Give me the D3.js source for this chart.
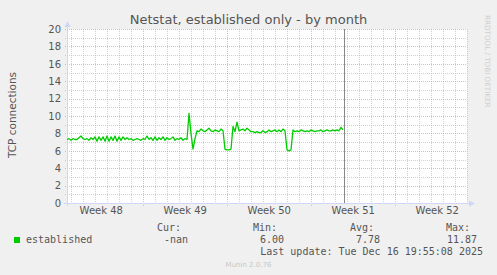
<!DOCTYPE html>
<html><head><meta charset="utf-8">
<script src="https://cdn.jsdelivr.net/npm/d3@7"></script>
<style>
html,body{margin:0;padding:0;background:#F0F0F0;}
svg{display:block;}
</style></head>
<body>
<svg id="chart" width="497" height="275"></svg>
<script>
// ---- data ----
const title = "Netstat, established only - by month";
const yLabel = "TCP connections";
const seriesName = "established";
const yTicks = [0,2,4,6,8,10,12,14,16,18,20];
const weekLabels = ["Week 48","Week 49","Week 50","Week 51","Week 52"];
const weekStarts = ["2025-11-24","2025-12-01","2025-12-08","2025-12-15","2025-12-22"];
const rangeStart = "2025-11-24T16:30:00Z";
const rangeHours = 800;
const dataStart = "2025-11-24T16:30:00Z";
const stepHours = 4;
const vruleTime = "2025-12-17T19:06:00Z";
const values = [
 7.3,7.4,7.2,7.4,7.3,7.3,7.5,7.7,7.4,7.3,
 7.4,7.2,7.5,7.3,7.6,7.1,7.6,7.2,7.6,7.1,
 7.7,7.1,7.6,7.2,7.7,7.1,7.6,7.2,7.6,7.3,
 7.5,7.3,7.4,7.2,7.3,7.4,7.3,7.2,7.4,7.3,
 7.7,7.3,7.5,7.2,7.6,7.2,7.5,7.3,7.6,7.2,
 7.5,7.3,7.4,7.6,7.2,7.4,7.3,7.5,7.2,7.4,
 7.3,10.3,8.0,6.2,7.4,8.3,8.2,8.5,8.3,8.2,
 8.4,8.6,8.3,8.2,8.4,8.3,8.2,8.5,8.3,6.2,
 6.1,6.1,6.2,8.8,8.2,9.3,8.3,8.4,8.5,8.3,
 8.6,8.4,8.2,8.2,8.1,8.2,8.1,8.1,8.3,8.1,
 8.2,8.4,8.2,8.3,8.4,8.2,8.4,8.2,8.5,8.3,
 6.1,6.0,6.1,8.4,8.2,8.3,8.2,8.4,8.3,8.2,
 8.3,8.2,8.4,8.3,8.2,8.3,8.3,8.4,8.2,8.3,
 8.4,8.3,8.3,8.4,8.3,8.4,8.3,8.7,8.4
];
const legendHeaders = ["Cur:","Min:","Avg:","Max:"];
const legendValues = ["-nan","6.00","7.78","11.87"];
const lastUpdate = "Last update: Tue Dec 16 19:55:08 2025";
const footer = "Munin 2.0.76";
const watermark = "RRDTOOL / TOBI OETIKER";

// ---- drawing ----
const svg = d3.select("#chart");
const L = 67, R = 467, T = 29, B = 203;
const t0 = new Date(rangeStart);
const t1 = new Date(t0.getTime() + rangeHours*3600e3);
const x = d3.scaleUtc().domain([t0, t1]).range([L, R]);
const y = d3.scaleLinear().domain([0, 20]).range([B, T]);
const d0 = new Date(dataStart).getTime();
const pts = values.map((v,i)=>({t:new Date(d0 + i*stepHours*3600e3), v}));

const minorCol = "rgba(192,192,192,0.75)";
const majorCol = "rgba(255,128,128,0.65)";
const axisCol = "#CFD6F8";
const fontCol = "#555555";

svg.append("rect").attr("x",L).attr("y",T).attr("width",R-L).attr("height",B-T).attr("fill","#FFFFFF");

const g = svg.append("g").attr("shape-rendering","crispEdges");
// minor vertical (daily)
const days = d3.utcDay.range(t0, t1);
const weeks = weekStarts.map(s=>new Date(s+"T00:00:00Z"));
const weekSet = new Set(weeks.map(d=>+d));
days.filter(d=>!weekSet.has(+d)).forEach(d=>{
  const xx = Math.round(x(d))+0.5;
  g.append("line").attr("x1",xx).attr("x2",xx).attr("y1",T).attr("y2",B+2)
   .attr("stroke",minorCol).attr("stroke-dasharray","1,1");
});
// minor horizontal
d3.range(1,20,2).forEach(v=>{
  const yy = Math.round(y(v))+0.5;
  g.append("line").attr("x1",L-2).attr("x2",R).attr("y1",yy).attr("y2",yy)
   .attr("stroke",minorCol).attr("stroke-dasharray","1,1");
});
// major horizontal
yTicks.forEach(v=>{
  const yy = Math.round(y(v))+0.5;
  g.append("line").attr("x1",L-2).attr("x2",R).attr("y1",yy).attr("y2",yy)
   .attr("stroke",majorCol).attr("stroke-dasharray","1,1");
});
// major vertical (weeks)
weeks.filter(d=>d>t0 && d<t1).forEach(d=>{
  const xx = Math.round(x(d))+0.5;
  g.append("line").attr("x1",xx).attr("x2",xx).attr("y1",T).attr("y2",B+3)
   .attr("stroke",majorCol).attr("stroke-dasharray","1,1");
});

// series line
svg.append("path").datum(pts)
  .attr("fill","none").attr("stroke","#00CC00").attr("stroke-width",1.3)
  .attr("stroke-linejoin","round")
  .attr("d", d3.line().x(d=>x(d.t)).y(d=>y(d.v)));

// vrule
const vx = Math.round(x(new Date(vruleTime)))+0.5;
g.append("line").attr("x1",vx).attr("x2",vx).attr("y1",T).attr("y2",B)
  .attr("stroke","#888888");

// axes lines + arrows
g.append("line").attr("x1",L+0.5).attr("x2",L+0.5).attr("y1",B+3).attr("y2",T-5).attr("stroke",axisCol);
g.append("line").attr("x1",L-3).attr("x2",R+4).attr("y1",B+0.5).attr("y2",B+0.5).attr("stroke",axisCol);
svg.append("path").attr("d",`M${L-2.5},${T-2} L${L+3.5},${T-2} L${L+0.5},${T-8} Z`).attr("fill",axisCol);
svg.append("path").attr("d",`M${R+2},${B-2.5} L${R+2},${B+3.5} L${R+8},${B+0.5} Z`).attr("fill",axisCol);

// y axis labels
const yAxis = d3.axisLeft(y).tickValues(yTicks).tickSize(0).tickPadding(0).tickFormat(d3.format("d"));
const ya = svg.append("g").attr("transform",`translate(${L-6},0)`).call(yAxis);
ya.select(".domain").remove();
ya.selectAll("text").attr("font-family","DejaVu Sans").attr("font-size","10px").attr("fill",fontCol);

// x axis labels (mid-week)
const mids = weeks.map(d=>new Date(d.getTime()+3.5*86400e3));
const xAxis = d3.axisBottom(x).tickValues(mids).tickSize(0).tickPadding(0)
  .tickFormat((d,i)=>weekLabels[i]);
const xa = svg.append("g").attr("transform",`translate(0,${B+4})`).call(xAxis);
xa.select(".domain").remove();
xa.selectAll("text").attr("font-family","DejaVu Sans").attr("font-size","10px").attr("fill",fontCol).attr("dy","0.72em");

// title
svg.append("text").attr("x",248.5).attr("y",23.5).attr("text-anchor","middle")
  .attr("font-family","DejaVu Sans").attr("font-size","13px").attr("fill","#555555").text(title);

// y label
svg.append("text").attr("transform","translate(16,115) rotate(-90)").attr("text-anchor","middle")
  .attr("font-family","DejaVu Sans").attr("font-size","10.5px").attr("fill",fontCol).text(yLabel);

// watermark
svg.append("text").attr("transform","translate(485,15) rotate(90)").attr("text-anchor","start")
  .attr("font-family","DejaVu Sans").attr("font-size","7.2px").attr("fill","#CFCFCF").text(watermark);

// legend
const mono = "DejaVu Sans Mono";
svg.append("rect").attr("x",14).attr("y",237).attr("width",6).attr("height",6).attr("fill","#00CC00");
svg.append("text").attr("x",26).attr("y",243).attr("font-family",mono).attr("font-size","10px").attr("fill",fontCol).text(seriesName);
const hdrRight = [181,277,374,470];
const valRight = [188,284,380,477];
legendHeaders.forEach((h,i)=>{
  svg.append("text").attr("x",hdrRight[i]).attr("y",231).attr("text-anchor","end")
    .attr("font-family",mono).attr("font-size","10px").attr("fill",fontCol).text(h);
  svg.append("text").attr("x",valRight[i]).attr("y",243).attr("text-anchor","end")
    .attr("font-family",mono).attr("font-size","10px").attr("fill",fontCol).text(legendValues[i]);
});
svg.append("text").attr("x",483).attr("y",255).attr("text-anchor","end")
  .attr("font-family",mono).attr("font-size","10px").attr("fill",fontCol).text(lastUpdate);
svg.append("text").attr("x",248.5).attr("y",266.5).attr("text-anchor","middle")
  .attr("font-family","DejaVu Sans").attr("font-size","7px").attr("fill","#C8C8C8").text(footer);
</script>
</body></html>
